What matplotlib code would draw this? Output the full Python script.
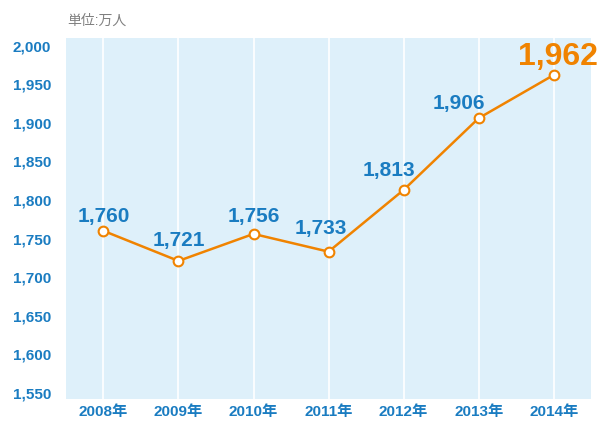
import matplotlib
matplotlib.use("Agg")
import matplotlib.pyplot as plt
from matplotlib.ticker import FuncFormatter

years = ["2008年", "2009年", "2010年", "2011年", "2012年", "2013年", "2014年"]
values = [1760, 1721, 1756, 1733, 1813, 1906, 1962]
yticks = [1550, 1600, 1650, 1700, 1750, 1800, 1850, 1900, 1950, 2000]

plt.rcParams['font.family'] = ['Liberation Sans', 'Noto Sans CJK JP']

blue = "#1a7cc1"
orange = "#f08300"

fig = plt.figure(figsize=(5.99, 4.22), dpi=100)
ax = fig.add_axes([0.110, 0.0545, 0.877, 0.8555])
ax.set_facecolor("#def0fa")

x = list(range(len(years)))
ax.plot(x, values, color=orange, lw=1.8, zorder=3,
        marker="o", markersize=7, markerfacecolor="white",
        markeredgecolor=orange, markeredgewidth=1.5)

ax.set_xlim(-0.5, 6.5)
ax.set_ylim(1542, 2010)
ax.set_yticks(yticks)
ax.yaxis.set_major_formatter(FuncFormatter(lambda v, p: f"{int(v):,}"))
ax.set_xticks(x)
ax.set_xticklabels(years)

for xi in x:
    ax.axvline(xi, color="white", lw=1.2, zorder=1)

for s in ax.spines.values():
    s.set_visible(False)
ax.tick_params(length=0, labelsize=11, labelcolor=blue)
ax.tick_params(axis="x", pad=4)
ax.tick_params(axis="y", pad=10.5)
for t in ax.get_xticklabels() + ax.get_yticklabels():
    t.set_fontweight("bold")

# value labels (offsets in pixels, baseline relative to the point)
offsets = [(0, 9), (0, 15), (0, 12), (-8, 18), (-15, 14), (-20, 9), (4, 10)]
for i, v in enumerate(values):
    last = i == len(values) - 1
    ax.annotate(f"{v:,}", (i, v), xytext=offsets[i], textcoords="offset pixels",
                ha="center", va="baseline",
                color=orange if last else blue,
                fontsize=23 if last else 15, fontweight="bold", zorder=4)

fig.text(67 / 599, 1 - 20.5 / 422, "単位:万人", color="#808080", fontsize=10,
         va="center", ha="left")

fig.savefig("out.png", dpi=100)
